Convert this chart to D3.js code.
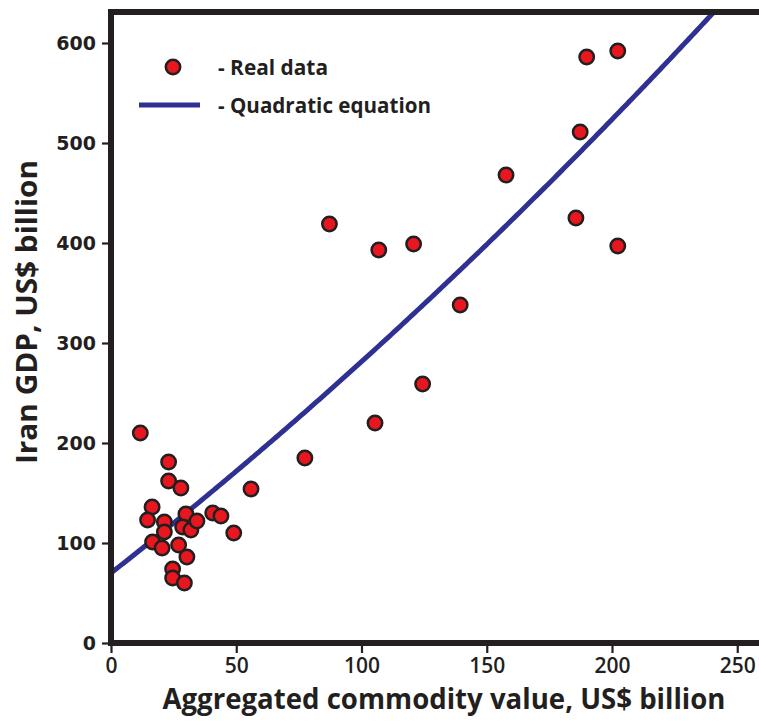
<!DOCTYPE html>
<html><head><meta charset="utf-8">
<script src="https://cdn.jsdelivr.net/npm/d3@7/dist/d3.min.js"></script>
<style>
html,body{margin:0;padding:0;background:#fff;}
svg{display:block;}
</style></head>
<body>
<script>
// Data
const commodityValue = [11.7,23.0,23.0,27.9,16.4,14.6,21.3,21.3,29.9,28.6,31.9,34.3,40.6,43.9,49.0,55.9,16.6,20.4,27.0,30.3,24.6,24.6,29.3,
  77.4,105.4,87.2,106.9,120.8,139.4,124.4,157.7,189.9,202.3,187.3,185.6,202.3];
const gdpValue = [210,181,162,155,136,123,121,111,129,116,113,122,130,127,110,154,101,95,98,86,74,65,60,
  185,220,419,393,399,338,259,468,586,592,511,425,397];
// quadratic fit: y = a + b x + c x^2
const quadCoefficients = [70, 1.9586, 0.001546];
const xTicks = [0,50,100,150,200,250];
const yTicks = [0,100,200,300,400,500,600];
const legendLabels = ["- Real data","- Quadratic equation"];
const xTitle = "Aggregated commodity value, US$ billion";
const yTitle = "Iran GDP, US$ billion";

const W = 759, H = 722;
const svg = d3.select("body").append("svg").attr("width",W).attr("height",H);
const mLeft = 111, mTop = 12, mBottom = 643;
const x = d3.scaleLinear().domain([0,259.5]).range([mLeft, mLeft + 2.505*259.5]);
const y = d3.scaleLinear().domain([0,631]).range([mBottom, mTop]);

const sansFont = "'Open Sans','Noto Sans',sans-serif";
const ink = "#231f20";

svg.append("defs").append("clipPath").attr("id","clip")
  .append("rect").attr("x",mLeft).attr("y",mTop).attr("width",W-mLeft).attr("height",mBottom-mTop);

// quadratic curve
const curveX = d3.range(0, 259.5, 1);
const f = v => quadCoefficients[0] + quadCoefficients[1]*v + quadCoefficients[2]*v*v;
svg.append("path").attr("clip-path","url(#clip)")
  .datum(curveX)
  .attr("fill","none").attr("stroke","#2e3192").attr("stroke-width",5)
  .attr("d", d3.line().x(d=>x(d)).y(d=>y(f(d))));

// points
svg.append("g").selectAll("circle")
  .data(commodityValue.map((v,i)=>[v,gdpValue[i]]))
  .join("circle")
  .attr("cx",d=>x(d[0])).attr("cy",d=>y(d[1])).attr("r",7.2)
  .attr("fill","#e8171f").attr("stroke",ink).attr("stroke-width",2.5);

// axes
const yAxis = svg.append("g").attr("transform",`translate(${mLeft},0)`)
  .call(d3.axisLeft(y).tickValues(yTicks).tickSize(9).tickPadding(6));
yAxis.select(".domain").remove();
yAxis.selectAll(".tick line").attr("stroke",ink).attr("stroke-width",2.2);
yAxis.selectAll(".tick text").attr("font-family","'DejaVu Sans',Verdana,sans-serif")
  .attr("font-weight","bold").attr("font-size",19).attr("fill",ink);

const xAxis = svg.append("g").attr("transform",`translate(0,${mBottom})`)
  .call(d3.axisBottom(x).tickValues(xTicks).tickSize(10).tickPadding(5));
xAxis.select(".domain").remove();
xAxis.selectAll(".tick line").attr("stroke",ink).attr("stroke-width",2.2);
xAxis.selectAll(".tick text").attr("font-family",sansFont).attr("font-weight",600)
  .attr("font-size",21).attr("fill",ink);

// frame lines
svg.append("line").attr("x1",mLeft).attr("x2",W).attr("y1",mTop).attr("y2",mTop)
  .attr("stroke",ink).attr("stroke-width",6);
svg.append("line").attr("x1",mLeft).attr("x2",W).attr("y1",mBottom).attr("y2",mBottom)
  .attr("stroke",ink).attr("stroke-width",6);
svg.append("line").attr("x1",mLeft).attr("x2",mLeft).attr("y1",mTop-3).attr("y2",mBottom+3)
  .attr("stroke",ink).attr("stroke-width",6);

// titles
svg.append("text").attr("x",444).attr("y",709).attr("text-anchor","middle")
  .attr("font-family",sansFont).attr("font-size",28).attr("font-weight",700)
  .attr("fill",ink).attr("textLength",563).attr("lengthAdjust","spacingAndGlyphs").text(xTitle);
svg.append("text").attr("transform","translate(37,312) rotate(-90)").attr("text-anchor","middle")
  .attr("font-family",sansFont).attr("font-size",28).attr("font-weight",700)
  .attr("fill",ink).attr("textLength",304).attr("lengthAdjust","spacingAndGlyphs").text(yTitle);

// legend
const lg = svg.append("g");
lg.append("circle").attr("cx",173).attr("cy",67).attr("r",7.2)
  .attr("fill","#e8171f").attr("stroke",ink).attr("stroke-width",2.5);
lg.append("line").attr("x1",139).attr("x2",200).attr("y1",105).attr("y2",105)
  .attr("stroke","#2e3192").attr("stroke-width",5);
lg.selectAll("text").data(legendLabels).join("text")
  .attr("x",218).attr("y",(d,i)=> i===0 ? 75 : 113)
  .attr("font-family",sansFont).attr("font-size",21).attr("font-weight",700)
  .attr("fill",ink).attr("textLength",(d,i)=> i===0 ? 110 : 213)
  .attr("lengthAdjust","spacingAndGlyphs").text(d=>d);
</script>
</body></html>
